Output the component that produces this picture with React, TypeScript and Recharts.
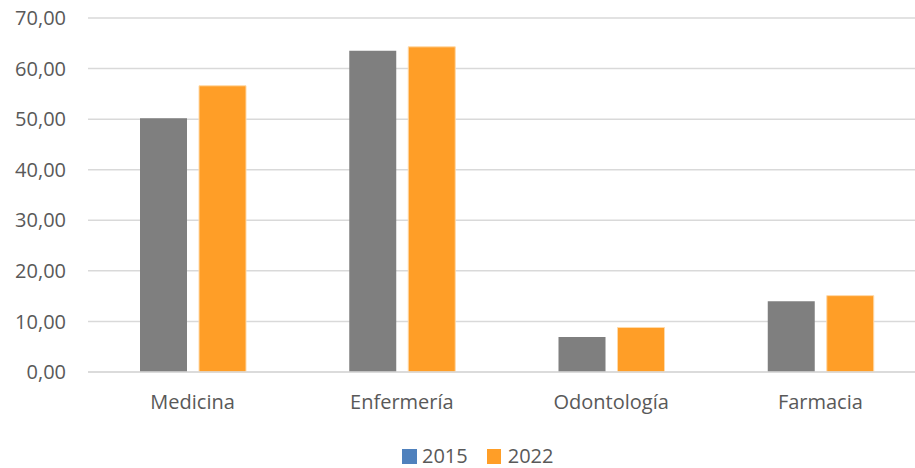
import React from 'react';
import { BarChart, Bar, XAxis, YAxis, CartesianGrid } from 'recharts';

const categories = ['Medicina', 'Enfermería', 'Odontología', 'Farmacia'];
const values2015 = [50.2, 63.5, 6.9, 14.0];
const values2022 = [56.6, 64.3, 8.8, 15.1];
const yTicks = [0, 10, 20, 30, 40, 50, 60, 70];
const seriesNames = ['2015', '2022'];

const data = categories.map((c, i) => ({ name: c, y2015: values2015[i], y2022: values2022[i] }));

const FONT = '"Open Sans", sans-serif';
const TEXT = '#595959';

const fmt = (v: number) => v.toFixed(2).replace('.', ',');

export default function App() {
  return (
    <div style={{ position: 'absolute', left: 0, top: 0, width: 915, height: 468, overflow: 'hidden', background: '#fff' }}>
      <BarChart width={925} height={468} data={data} margin={{ top: 18, right: 0, bottom: 66, left: 0 }} barGap={12} barSize={47}>
        <CartesianGrid vertical={false} stroke="#D9D9D9" strokeWidth={1.5} />
        <XAxis dataKey="name" height={30} axisLine={{ stroke: '#D9D9D9', strokeWidth: 1.5 }} tickLine={false} tickSize={0} tickMargin={23} tick={{ fill: TEXT, fontFamily: FONT, fontSize: 20 }} />
        <YAxis width={88} domain={[0, 70]} ticks={yTicks} tickFormatter={fmt} axisLine={false} tickLine={false} tickSize={0} tickMargin={22} tick={{ fill: TEXT, fontFamily: FONT, fontSize: 20 }} />
        <Bar dataKey="y2015" fill="#7F7F7F" isAnimationActive={false} />
        <Bar dataKey="y2022" fill="#FF9E27" stroke="#FFD9A8" strokeWidth={1} isAnimationActive={false} />
      </BarChart>
      <div style={{ position: 'absolute', left: 402, top: 444, height: 24, display: 'flex', alignItems: 'center', fontFamily: FONT, fontSize: 20, color: TEXT, lineHeight: '24px' }}>
        <span style={{ display: 'inline-block', width: 15, height: 15, background: '#4F81BD', marginRight: 5 }} />
        <span style={{ marginRight: 19 }}>{seriesNames[0]}</span>
        <span style={{ display: 'inline-block', width: 14, height: 15, background: '#FF9E27', marginRight: 7 }} />
        <span>{seriesNames[1]}</span>
      </div>
    </div>
  );
}
